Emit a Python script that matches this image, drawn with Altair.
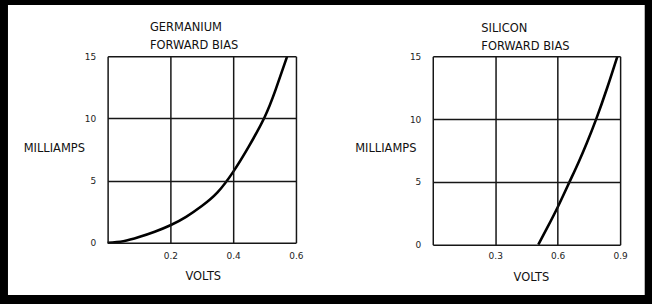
import altair as alt
import pandas as pd

# ---- data ----
ge_volts = [0.0, 0.05, 0.1, 0.15, 0.2, 0.25, 0.3, 0.35, 0.4, 0.45, 0.5, 0.535, 0.572]
ge_ma = [0.0, 0.12, 0.45, 0.88, 1.4, 2.08, 2.95, 4.05, 5.7, 7.75, 10.1, 12.3, 15.0]

si_volts = [0.507, 0.55, 0.6, 0.657, 0.7, 0.74, 0.785, 0.838, 0.887]
si_ma = [0.0, 1.35, 2.98, 5.0, 6.55, 8.1, 10.0, 12.5, 15.0]

ge_xticks = [0, 0.2, 0.4, 0.6]
si_xticks = [0, 0.3, 0.6, 0.9]
ma_ticks = [0, 5, 10, 15]

ge_title = ["GERMANIUM", "FORWARD BIAS"]
si_title = ["SILICON", "FORWARD BIAS"]
x_label = "VOLTS"
y_label = "MILLIAMPS"

FONT = "DejaVu Sans"


def panel(volts, ma, xticks, title, w, h, title_dx, title_off, ytx, yty, xtx, xty, bg, xpad):
    df = pd.DataFrame({"v": volts, "ma": ma})
    backdrop = alt.Chart(alt.Data(values=[{}])).mark_rect(
        color="white", strokeWidth=0
    ).encode(
        x=alt.value(bg[0]), x2=alt.value(bg[1]),
        y=alt.value(bg[2]), y2=alt.value(bg[3]),
    )
    common = dict(
        grid=True, gridColor="#161616", gridWidth=1.5, gridOpacity=1,
        ticks=False, domain=False, labelFlush=False, labelOverlap=False,
        zindex=1, labelFont=FONT, labelFontSize=9, labelColor="#222",
        titleFont=FONT, titleFontSize=11.5, titleFontWeight="normal",
        titleColor="#111", titleAlign="center", titleBaseline="middle",
    )
    curve = alt.Chart(df).mark_line(
        color="black", strokeWidth=2.6, interpolate="natural"
    ).encode(
        x=alt.X(
            "v:Q",
            scale=alt.Scale(domain=[0, xticks[-1]], nice=False, zero=True),
            axis=alt.Axis(
                values=xticks,
                title=x_label,
                labelExpr="datum.value == 0 ? '' : format(datum.value, '.1f')",
                titleX=xtx, titleY=xty,
                labelPadding=xpad,
                **common,
            ),
        ),
        y=alt.Y(
            "ma:Q",
            scale=alt.Scale(domain=[0, 15], nice=False),
            axis=alt.Axis(
                values=ma_ticks,
                title=y_label,
                titleAngle=0,
                titleX=ytx, titleY=yty,
                labelPadding=12,
                **common,
            ),
        ),
    )
    return alt.layer(backdrop, curve).properties(
        width=w,
        height=h,
        title=alt.TitleParams(
            text=title,
            anchor="start",
            frame="group",
            dx=title_dx,
            offset=title_off,
            font=FONT,
            fontSize=11.5,
            fontWeight="normal",
            color="#111",
            lineHeight=18,
        ),
    )


left = panel(ge_volts, ge_ma, ge_xticks, ge_title, 189, 187, 42.5, -46.5,
             -54, 92.8, 95.5, 33.5, (-100, 222, -51.5, 239.5), 9)
right = panel(si_volts, si_ma, si_xticks, si_title, 188, 189, 48.7, -48,
              -47.6, 92.8, 98.5, 32.8, (-110, 212.7, -51.5, 239.5), 7)

chart = alt.hconcat(left, right, spacing=137.3, bounds="flush").properties(
    background="black",
    padding={"left": 7, "top": 4, "right": 6.3, "bottom": 9},
).configure_view(
    stroke="transparent"
)

chart.save("out.html", embed_options={"renderer": "svg", "actions": False})
